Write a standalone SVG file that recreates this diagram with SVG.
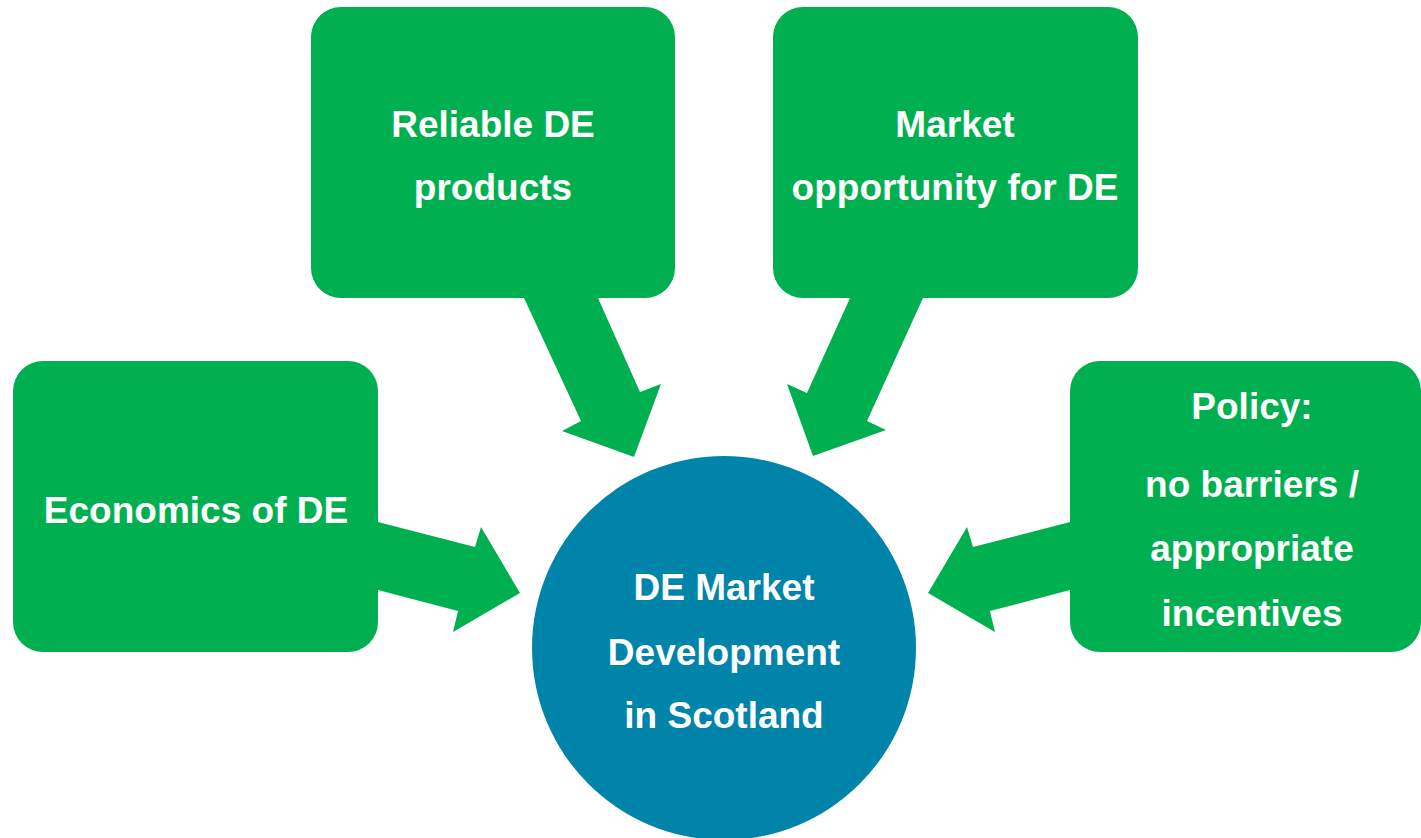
<svg xmlns="http://www.w3.org/2000/svg" width="1421" height="838" viewBox="0 0 1421 838">
<style>
.box{fill:#00B050}
.arr{fill:#00B050}
.hub{fill:#0084AA}
.t{font-family:"Liberation Sans",Arial,sans-serif;font-weight:bold;font-size:37px;fill:#FFFFFF;text-anchor:middle}
</style>
<rect width="1421" height="838" fill="#FFFFFF"/>
<g id="connectors">
<polygon class="arr" points="524,298 598,298 640,392 661,384 634,457 562,431 581,421"/>
<polygon class="arr" points="850,298 923,298 867,421 886,430 813,456 787,384 807,393"/>
<polygon class="arr" points="378,522 475,547 481,527 520,593 453,632 458,611 378,590"/>
<polygon class="arr" points="1070,522 973,547 967,527 928,593 995,632 990,611 1070,590"/>
</g>
<g id="reliable">
<rect class="box" x="311" y="7" width="364" height="291" rx="30"/>
<text class="t" x="493" y="137">Reliable DE</text>
<text class="t" x="493" y="200">products</text>
</g>
<g id="market">
<rect class="box" x="773" y="7" width="365" height="291" rx="30"/>
<text class="t" x="955" y="137">Market</text>
<text class="t" x="955" y="200">opportunity for DE</text>
</g>
<g id="economics">
<rect class="box" x="13" y="361" width="365" height="291" rx="30"/>
<text class="t" x="196" y="523">Economics of DE</text>
</g>
<g id="policy">
<rect class="box" x="1070" y="361" width="351" height="291" rx="30"/>
<text class="t" x="1252" y="419">Policy:</text>
<text class="t" x="1252" y="497">no barriers /</text>
<text class="t" x="1252" y="561">appropriate</text>
<text class="t" x="1252" y="626">incentives</text>
</g>
<g id="hub">
<circle class="hub" cx="724" cy="648" r="192"/>
<text class="t" x="724" y="600">DE Market</text>
<text class="t" x="724" y="665">Development</text>
<text class="t" x="724" y="728">in Scotland</text>
</g>
</svg>
